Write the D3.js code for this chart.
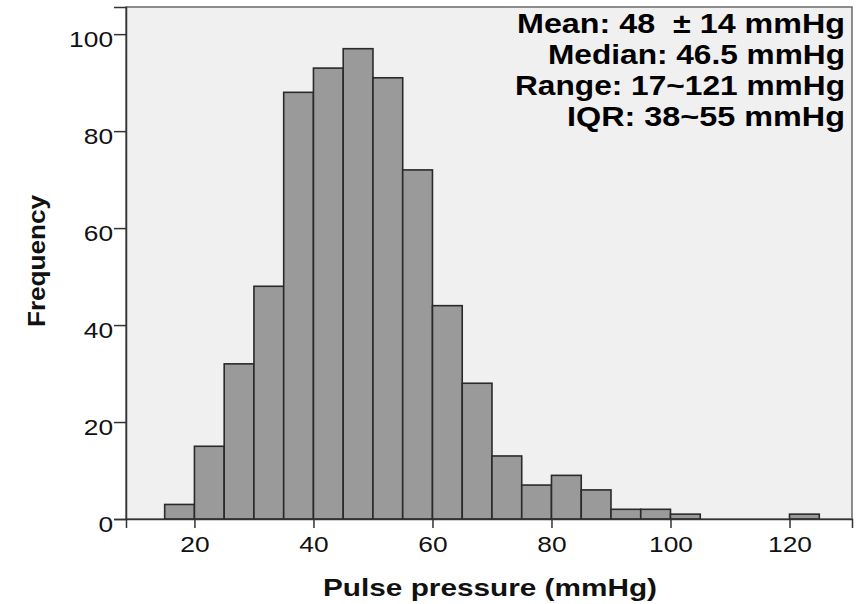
<!DOCTYPE html>
<html>
<head>
<meta charset="utf-8">
<script src="https://cdn.jsdelivr.net/npm/d3@7/dist/d3.min.js"></script>
<style>
  body { margin: 0; background: #ffffff; }
  svg { display: block; }
  text { font-family: Arial, "Liberation Sans", Helvetica, sans-serif; }
</style>
</head>
<body>
<svg id="chart" width="861" height="604"></svg>
<script>
// ---- data ----
const binStarts = [15, 20, 25, 30, 35, 40, 45, 50, 55, 60, 65, 70, 75, 80, 85, 90, 95, 100, 120];
const binWidth = 5;
const frequencies = [3, 15, 32, 48, 88, 93, 97, 91, 72, 44, 28, 13, 7, 9, 6, 2, 2, 1, 1];
const xTicks = [20, 40, 60, 80, 100, 120];
const yTicks = [0, 20, 40, 60, 80, 100];
const xTitle = "Pulse pressure (mmHg)";
const yTitle = "Frequency";
const statLines = ["Mean: 48  \u00B1 14 mmHg", "Median: 46.5 mmHg", "Range: 17~121 mmHg", "IQR: 38~55 mmHg"];

// ---- layout ----
const plot = { left: 126, right: 852, top: 7, bottom: 519 };
const sx = 1.17; // horizontal stretch of glyphs in the reference

const svg = d3.select("#chart");

const x = d3.scaleLinear().domain([8.5, 130.5]).range([plot.left, plot.right]);
const y = d3.scaleLinear().domain([0, 105.6]).range([plot.bottom, plot.top]);

// background frame
svg.append("rect")
  .attr("x", plot.left).attr("y", plot.top)
  .attr("width", plot.right - plot.left).attr("height", plot.bottom - plot.top)
  .attr("fill", "#f0f0f0").attr("stroke", "#6a6a6a").attr("stroke-width", 1.5);

// bars
const bins = binStarts.map((s, i) => ({ x0: s, x1: s + binWidth, n: frequencies[i] }));
svg.append("g").selectAll("rect")
  .data(bins)
  .join("rect")
  .attr("x", d => x(d.x0))
  .attr("y", d => y(d.n))
  .attr("width", d => x(d.x1) - x(d.x0))
  .attr("height", d => y(0) - y(d.n))
  .attr("fill", "#9a9a9a")
  .attr("stroke", "#2a2a2a")
  .attr("stroke-width", 1.6);

// y axis
const yAxis = svg.append("g")
  .attr("transform", `translate(${plot.left},0)`)
  .call(d3.axisLeft(y).tickValues(yTicks).tickSize(12).tickPadding(1).tickFormat(d3.format("d")));
yAxis.select(".domain").attr("stroke", "#333").attr("stroke-width", 1.5);
yAxis.selectAll(".tick line").attr("stroke", "#333").attr("stroke-width", 1.5);
yAxis.selectAll(".tick text")
  .attr("font-size", 22.5)
  .attr("fill", "#111")
  .attr("x", -13 / sx)
  .attr("dy", 0)
  .attr("y", 12)
  .attr("transform", `scale(${sx},1)`);

// x axis
const xAxis = svg.append("g")
  .attr("transform", `translate(0,${plot.bottom})`)
  .call(d3.axisBottom(x).tickValues(xTicks).tickSize(9).tickFormat(d3.format("d")));
xAxis.select(".domain").attr("stroke", "#333").attr("stroke-width", 1.5);
xAxis.selectAll(".tick line").attr("stroke", "#333").attr("stroke-width", 1.5);
xAxis.selectAll(".tick text")
  .attr("font-size", 22.5)
  .attr("fill", "#111")
  .attr("y", 33)
  .attr("dy", 0)
  .attr("transform", `scale(${sx},1)`);

// axis titles
svg.append("text")
  .attr("x", 490).attr("y", 596)
  .attr("text-anchor", "middle")
  .attr("font-size", 24).attr("font-weight", "bold").attr("fill", "#111")
  .attr("textLength", 334).attr("lengthAdjust", "spacingAndGlyphs")
  .text(xTitle);

svg.append("text")
  .attr("transform", "translate(45,261) rotate(-90)")
  .attr("text-anchor", "middle")
  .attr("font-size", 24).attr("font-weight", "bold").attr("fill", "#111")
  .attr("textLength", 132).attr("lengthAdjust", "spacingAndGlyphs")
  .text(yTitle);

// stats annotation
const statStarts = [517, 548, 515, 567];
const statEnd = 845;
const statBase = [33, 64, 95, 126];
svg.append("g").selectAll("text")
  .data(statLines)
  .join("text")
  .attr("x", statEnd)
  .attr("y", (d, i) => statBase[i])
  .attr("text-anchor", "end")
  .attr("font-size", 28).attr("font-weight", "bold").attr("fill", "#000")
  .attr("textLength", (d, i) => statEnd - statStarts[i])
  .attr("lengthAdjust", "spacingAndGlyphs")
  .style("white-space", "pre")
  .text(d => d);
</script>
</body>
</html>
